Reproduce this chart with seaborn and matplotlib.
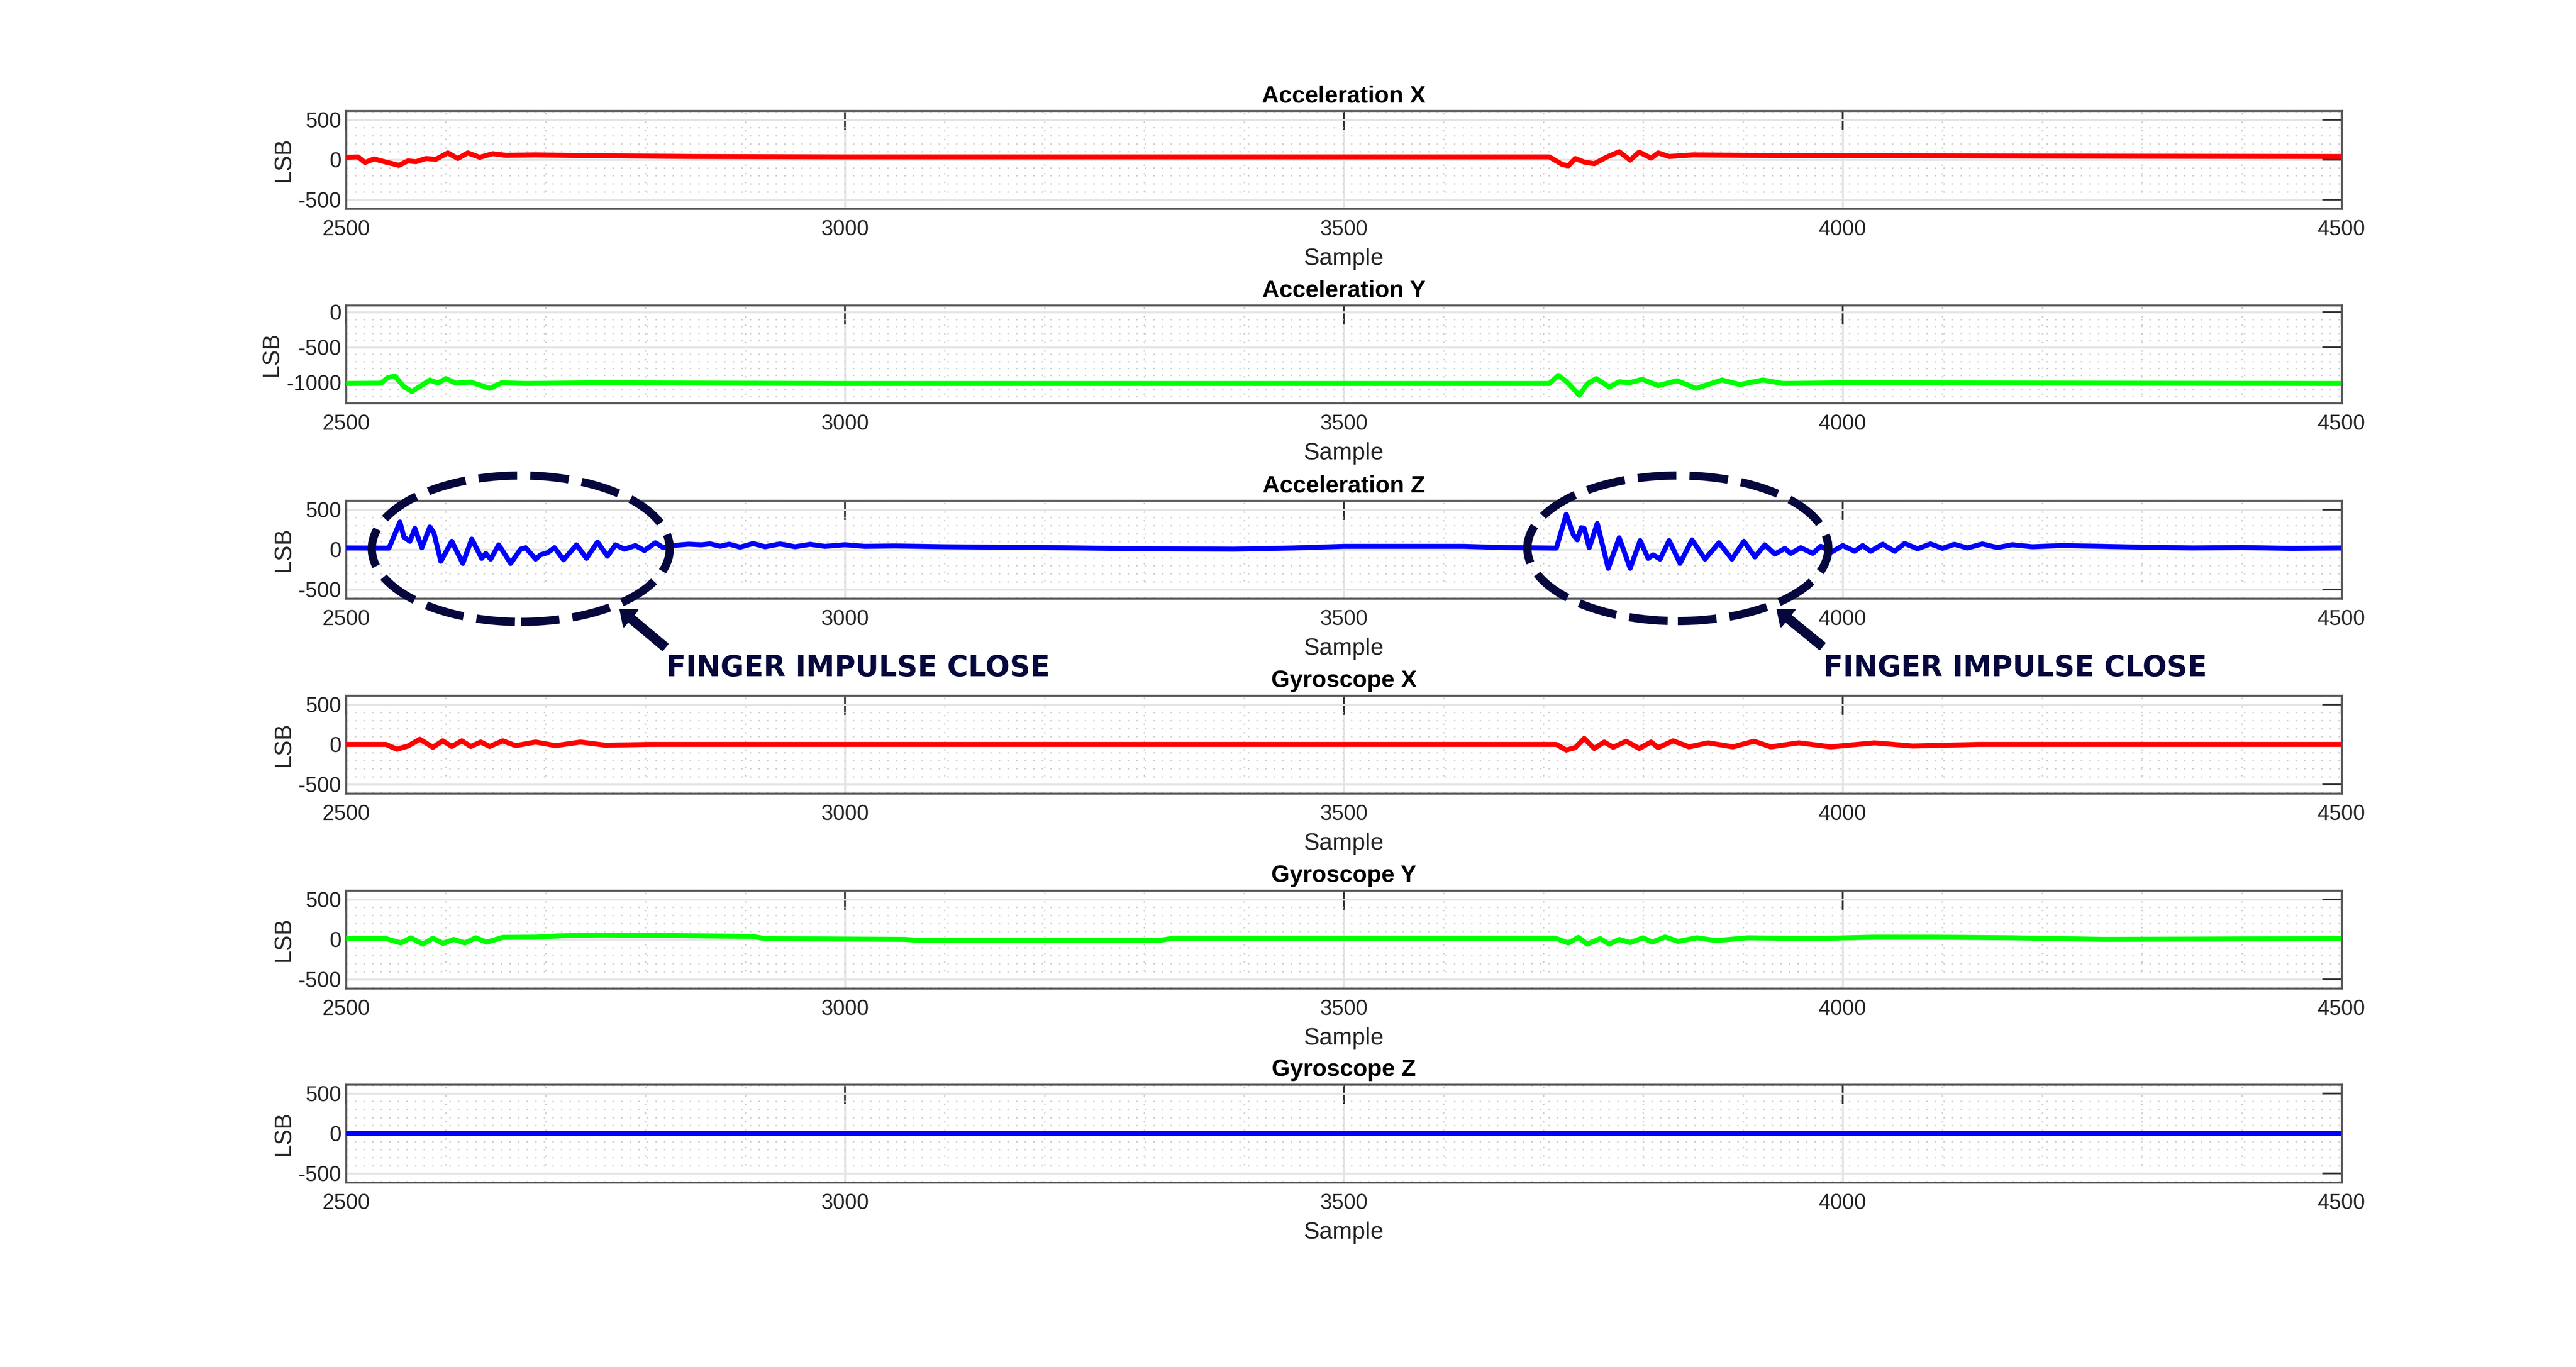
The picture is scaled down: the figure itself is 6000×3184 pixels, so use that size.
import matplotlib
matplotlib.use("Agg")
import matplotlib.pyplot as plt
import seaborn as sns
import pandas as pd
from matplotlib.patches import Ellipse, FancyArrowPatch, ArrowStyle
from matplotlib.ticker import MultipleLocator

# ---------------- data: (sample, LSB) ----------------
acc_x = [(2500, 30), (2512, 35), (2519, -35), (2528, 10), (2540, -30), (2553, -70),
         (2562, -15), (2570, -25), (2580, 15), (2590, 5), (2602, 85), (2612, 15),
         (2622, 85), (2634, 30), (2647, 75), (2660, 55), (2690, 60), (2750, 50),
         (2850, 40), (3000, 35), (3300, 35), (3600, 35), (3706, 35), (3719, -60),
         (3725, -75), (3732, 15), (3741, -30), (3751, -50), (3763, 30), (3776, 100),
         (3787, -5), (3796, 95), (3808, 20), (3815, 85), (3826, 40), (3850, 60),
         (3900, 55), (4000, 50), (4200, 45), (4500, 40)]

acc_y = [(2500, -1015), (2535, -1010), (2542, -930), (2549, -910), (2558, -1060),
         (2566, -1130), (2576, -1040), (2584, -965), (2592, -1010), (2600, -945),
         (2610, -1010), (2625, -995), (2644, -1085), (2656, -1005), (2680, -1015),
         (2750, -1005), (3000, -1015), (3500, -1015), (3706, -1015), (3715, -900),
         (3723, -985), (3732, -1120), (3736, -1185), (3744, -1020), (3753, -945),
         (3766, -1065), (3776, -990), (3786, -1005), (3799, -955), (3815, -1045),
         (3834, -975), (3853, -1085), (3879, -965), (3897, -1030), (3920, -965),
         (3940, -1015), (4000, -1005), (4500, -1015)]

acc_z = [(2500, 20), (2543, 18), (2554, 343), (2558, 156), (2564, 103), (2569, 263),
         (2571, 192), (2576, 23), (2584, 281), (2588, 210), (2595, -146), (2606, 103),
         (2617, -172), (2626, 130), (2636, -110), (2640, -48), (2645, -119), (2653, 59),
         (2665, -172), (2675, 5), (2680, 23), (2690, -119), (2695, -66), (2702, -39),
         (2709, 23), (2718, -128), (2731, 59), (2741, -110), (2752, 94), (2762, -83),
         (2770, 59), (2779, 5), (2790, 50), (2799, -12), (2810, 85), (2818, 23),
         (2828, 50), (2843, 67), (2856, 59), (2865, 71), (2875, 41), (2884, 67),
         (2895, 30), (2908, 75), (2920, 35), (2935, 70), (2950, 35), (2965, 65),
         (2980, 40), (3000, 60), (3020, 40), (3050, 45), (3100, 35), (3200, 25),
         (3300, 10), (3390, 5), (3450, 20), (3500, 40), (3620, 40), (3660, 25),
         (3713, 18), (3723, 440), (3730, 183), (3734, 121), (3738, 272), (3741, 263),
         (3746, 23), (3754, 325), (3765, -234), (3776, 147), (3787, -234), (3797, 112),
         (3805, -110), (3810, -66), (3817, -119), (3826, 112), (3837, -172), (3849, 121),
         (3862, -119), (3876, 85), (3889, -119), (3901, 103), (3912, -92), (3922, 59),
         (3932, -57), (3942, 14), (3948, -48), (3958, 23), (3970, -48), (3978, 41),
         (3989, -30), (4000, 50), (4012, -21), (4020, 50), (4028, -21), (4040, 67),
         (4052, -21), (4062, 76), (4075, 10), (4088, 70), (4100, 15), (4112, 65),
         (4125, 20), (4140, 70), (4155, 25), (4170, 60), (4190, 35), (4220, 50),
         (4260, 40), (4300, 30), (4350, 20), (4400, 25), (4450, 15), (4500, 20)]

gyro_x = [(2500, 0), (2540, 0), (2551, -60), (2562, -20), (2574, 65), (2587, -35),
          (2597, 45), (2606, -25), (2616, 45), (2625, -25), (2635, 30), (2644, -25),
          (2657, 45), (2670, -15), (2690, 30), (2710, -15), (2735, 30), (2760, -10),
          (2804, 0), (3000, 0), (3500, 0), (3713, 0), (3723, -70), (3732, -40),
          (3741, 75), (3751, -50), (3761, 30), (3770, -35), (3783, 40), (3796, -50),
          (3808, 30), (3815, -40), (3830, 45), (3846, -30), (3865, 20), (3890, -30),
          (3911, 40), (3928, -30), (3956, 20), (3988, -30), (4032, 20), (4070, -20),
          (4135, 0), (4500, 0)]

gyro_y = [(2500, 10), (2540, 10), (2555, -45), (2565, 20), (2577, -60), (2587, 15),
          (2597, -50), (2608, 0), (2619, -45), (2630, 20), (2641, -35), (2657, 25),
          (2689, 28), (2715, 45), (2753, 55), (2830, 48), (2907, 38), (2920, 10),
          (3060, 0), (3073, -12), (3316, -12), (3329, 15), (3712, 15), (3725, -45),
          (3735, 25), (3744, -60), (3757, 10), (3766, -60), (3776, 0), (3787, -40),
          (3800, 20), (3809, -35), (3822, 30), (3835, -25), (3854, 20), (3873, -15),
          (3905, 20), (3970, 10), (4032, 28), (4090, 28), (4170, 20), (4262, 0),
          (4500, 10)]

gyro_z = [(2500, -2), (3000, -2), (3500, -2), (4000, -2), (4500, -2)]

titles = ["Acceleration X", "Acceleration Y", "Acceleration Z",
          "Gyroscope X", "Gyroscope Y", "Gyroscope Z"]
series = [acc_x, acc_y, acc_z, gyro_x, gyro_y, gyro_z]
colors = ["#FF0000", "#00FF00", "#0000FF", "#FF0000", "#00FF00", "#0000FF"]
ylims = [(-610, 610), (-1295, 100), (-610, 610), (-610, 610), (-610, 610), (-610, 610)]
yticks = [[-500, 0, 500], [-1000, -500, 0], [-500, 0, 500],
          [-500, 0, 500], [-500, 0, 500], [-500, 0, 500]]
xticks = [2500, 3000, 3500, 4000, 4500]
note_text = "FINGER IMPULSE CLOSE"

# ---------------- styling ----------------
sns.set_style("white")
plt.rcParams['font.family'] = ['Liberation Sans', 'DejaVu Sans']
plt.rcParams['axes.unicode_minus'] = False

W, H = 6000, 3184
fig = plt.figure(figsize=(W / 300, H / 300), dpi=300)
fig.patch.set_facecolor("white")

LEFT, RIGHT = 806, 5454
TOPS = [258, 711, 1166, 1620, 2074, 2526]
PH = 228

axes = []
for i in range(6):
    top = TOPS[i]
    ax = fig.add_axes([LEFT / W, 1 - (top + PH) / H, (RIGHT - LEFT) / W, PH / H])
    df = pd.DataFrame(series[i], columns=["Sample", "LSB"])
    sns.lineplot(data=df, x="Sample", y="LSB", ax=ax, color=colors[i],
                 linewidth=2.8, estimator=None, sort=False, zorder=3)
    ax.set_xlim(2500, 4500)
    ax.set_ylim(*ylims[i])
    ax.set_xticks(xticks)
    ax.set_yticks(yticks[i])
    ax.xaxis.set_minor_locator(MultipleLocator(100))
    ax.yaxis.set_minor_locator(MultipleLocator(100))
    ax.set_axisbelow(True)
    ax.grid(which="major", color="#e4e4e4", linewidth=1.1, linestyle="-")
    ax.grid(which="minor", color="#cccccc", linewidth=0.8, linestyle=(0, (1, 5)))
    ax.tick_params(which="major", direction="in", length=10.8, width=1.0,
                   color="#333333", top=True, right=True, labelsize=12,
                   labelcolor="#262626")
    ax.tick_params(axis="x", which="major", pad=6.3)
    ax.tick_params(axis="y", which="major", pad=2.5)
    ax.tick_params(which="minor", length=0)
    for sp in ax.spines.values():
        sp.set_color("#555555")
        sp.set_linewidth(1.1)
    ax.set_title(titles[i], fontsize=13.2, fontweight="bold", pad=4.7, color="black")
    ax.set_xlabel("Sample", fontsize=13.2, labelpad=4.5, color="#262626")
    ax.set_ylabel("LSB", fontsize=13.2, labelpad=2, color="#262626")
    axes.append(ax)

# ---------------- annotations (figure pixel positions) ----------------
navy = "#06083D"

def fx(x):
    return x / W

def fy(y):
    return 1 - y / H

for (cx, cy, ew, eh) in [(1213, 1278, 694, 341), (3908, 1277, 701, 339)]:
    e = Ellipse((fx(cx), fy(cy)), ew / W, eh / H, transform=fig.transFigure,
                fill=False, edgecolor=navy, linewidth=4.6,
                linestyle=(0, (4.7, 1.6)), zorder=5)
    fig.add_artist(e)

for (tx, ty, hx, hy) in [(1549, 1507, 1445, 1420), (4244, 1505, 4140, 1420)]:
    arr = FancyArrowPatch((fx(tx), fy(ty)), (fx(hx), fy(hy)),
                          transform=fig.transFigure,
                          arrowstyle=ArrowStyle.Simple(head_length=0.5, head_width=0.8,
                                                       tail_width=0.3),
                          mutation_scale=15, color=navy, shrinkA=0, shrinkB=0,
                          zorder=5)
    fig.add_artist(arr)

for x0 in [1552, 4247]:
    fig.text(fx(x0), fy(1575), note_text, fontsize=16, fontweight="bold",
             color=navy, family=["DejaVu Sans"], ha="left", va="baseline")

fig.savefig("out.png", dpi=300, facecolor="white")
